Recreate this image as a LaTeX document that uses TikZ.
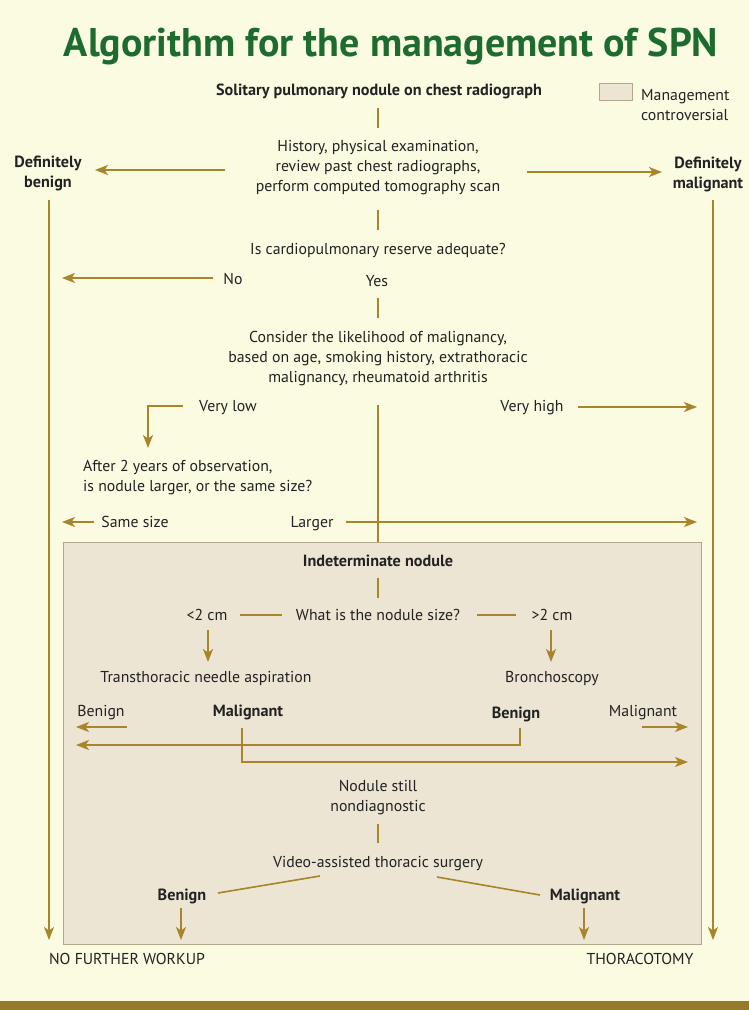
\documentclass[tikz,border=0pt]{standalone}
\usepackage{fontspec}
\setmainfont{PT Sans}
\usetikzlibrary{arrows.meta,calc}
\definecolor{bg}{HTML}{FBFBE2}
\definecolor{boxfill}{HTML}{ECE5D4}
\definecolor{boxline}{HTML}{B5A78A}
\definecolor{gold}{HTML}{A8842A}
\definecolor{band}{HTML}{957A2C}
\definecolor{ttl}{HTML}{1D6B2E}
\definecolor{ink}{HTML}{222222}
\begin{document}
\begin{tikzpicture}[x=1pt,y=-1pt,
  mtxt/.style={inner sep=0pt,align=center,text=ink,yshift=-2pt,font=\fontsize{15.8}{20}\selectfont},
  mbtxt/.style={mtxt,font=\fontsize{16.2}{20}\selectfont\bfseries},
  txt/.style={mtxt,text height=11pt,text depth=4pt},
  btxt/.style={mbtxt,text height=11pt,text depth=4pt},
  link/.style={draw=gold,line width=1.6pt},
  arr/.style={link,-{Stealth[length=13pt,width=10pt,inset=3.5pt]}}]
\useasboundingbox (0,0) rectangle (749,1010);
\fill[bg] (0,0) rectangle (749,1010);
\fill[band] (0,1001) rectangle (749,1010);
\draw[boxline,fill=boxfill,line width=0.6pt] (63,542) rectangle (701,944);

\node[inner sep=0pt,text=ttl,font=\fontsize{40}{44}\selectfont\bfseries] (title) at (391,46) {Algorithm for the management of SPN};

\node[btxt] (start) at (379,90) {Solitary pulmonary nodule on chest radiograph};
\node[draw=boxline,fill=boxfill,line width=0.6pt,minimum width=33pt,minimum height=17pt,inner sep=0pt] (legbox) at (616,92) {};
\node[mtxt,align=left,anchor=west] (legtxt) at (641,103) {Management\\controversial};

\node[mtxt] (hist) at (378,166) {History, physical examination,\\review past chest radiographs,\\perform computed tomography scan};
\node[mbtxt] (benign) at (48,171) {Definitely\\benign};
\node[mbtxt] (malig) at (708,172) {Definitely\\malignant};
\node[txt] (cardio) at (378,249) {Is cardiopulmonary reserve adequate?};
\node[txt] (no) at (233,279) {No};
\node[txt] (yes) at (377,281) {Yes};
\node[mtxt] (consider) at (378,357) {Consider the likelihood of malignancy,\\based on age, smoking history, extrathoracic\\malignancy, rheumatoid arthritis};
\node[txt] (vlow) at (228,406) {Very low};
\node[txt] (vhigh) at (532,406) {Very high};
\node[mtxt,align=left,anchor=west] (after) at (83,476) {After 2 years of observation,\\is nodule larger, or the same size?};
\node[txt] (same) at (135,522) {Same size};
\node[txt] (larger) at (312,522) {Larger};

\node[btxt] (indet) at (378,561) {Indeterminate nodule};
\node[txt] (lt2) at (207,615) {<2 cm};
\node[txt] (size) at (378,615) {What is the nodule size?};
\node[txt] (gt2) at (552,615) {>2 cm};
\node[txt] (tna) at (206,677) {Transthoracic needle aspiration};
\node[txt] (bronch) at (552,677) {Bronchoscopy};
\node[txt] (ben1) at (101,711) {Benign};
\node[btxt] (mal1) at (248,711) {Malignant};
\node[btxt] (ben2) at (516,713) {Benign};
\node[txt] (mal2) at (643,711) {Malignant};
\node[mtxt] (still) at (378,796) {Nodule still\\nondiagnostic};
\node[txt] (vats) at (378,862) {Video-assisted thoracic surgery};
\node[btxt] (ben3) at (182,895) {Benign};
\node[btxt] (mal3) at (585,895) {Malignant};
\node[txt] (nfw) at (127,959) {NO FURTHER WORKUP};
\node[txt] (thor) at (640,959) {THORACOTOMY};

% free ends
\coordinate (hL) at (225,170);
\coordinate (bL) at (95,170);
\coordinate (hR) at (527,172);
\coordinate (mR) at (662,172);
\coordinate (bTop) at (49,200);
\coordinate (bBot) at (49,940);
\coordinate (mTop) at (713,200);
\coordinate (mBot) at (713,940);
\coordinate (noS) at (213,278);
\coordinate (noL) at (62,278);
\coordinate (vlS) at (183,406);
\coordinate (bendL) at (148,406);
\coordinate (vlE) at (148,448);
\coordinate (vhS) at (578,407);
\coordinate (vhR) at (697,407);
\coordinate (spineT) at (378,405);
\coordinate (spine) at (378,542);
\coordinate (sameS) at (94,522);
\coordinate (sameL) at (62,522);
\coordinate (largS) at (346,522);
\coordinate (largR) at (697,522);
\coordinate (sz1) at (282,615);
\coordinate (sz1e) at (240,615);
\coordinate (sz2) at (477,615);
\coordinate (sz2e) at (516,615);
\coordinate (b1S) at (127,727);
\coordinate (b1L) at (76,727);
\coordinate (m2S) at (642,727);
\coordinate (m2R) at (688,727);
\coordinate (b2t) at (520,728);
\coordinate (b2c) at (520,745);
\coordinate (b2L) at (76,745);
\coordinate (m1t) at (242,728);
\coordinate (m1c) at (242,762);
\coordinate (m1R) at (688,762);
\coordinate (v1) at (320,876);
\coordinate (v1e) at (218,893);
\coordinate (v2) at (437,877);
\coordinate (v2e) at (540,895);
\coordinate (hT) at (378,108);
\coordinate (hB) at (378,128);
\coordinate (cT) at (378,210);
\coordinate (cB) at (378,230);
\coordinate (yT) at (378,298);
\coordinate (yB) at (378,318);
\coordinate (sT) at (378,824);
\coordinate (sB) at (378,843);
\coordinate (iT) at (378,578);
\coordinate (iB) at (378,598);
\coordinate (lT) at (208,630);
\coordinate (lB) at (208,662);
\coordinate (gT) at (551,630);
\coordinate (gB) at (551,662);
\coordinate (b3T) at (181,908);
\coordinate (b3B) at (181,940);
\coordinate (m3T) at (584,908);
\coordinate (m3B) at (584,940);

% connectors
\draw[link] (hT) -- (hB);
\draw[arr] (hL) -- (bL);
\draw[arr] (hR) -- (mR);
\draw[arr] (bTop) -- (bBot);
\draw[arr] (mTop) -- (mBot);
\draw[link] (cT) -- (cB);
\draw[arr] (noS) -- (noL);
\draw[link] (yT) -- (yB);
\draw[arr] (vlS) -- (bendL) -- (vlE);
\draw[arr] (vhS) -- (vhR);
\draw[link] (spineT) -- (spine);
\draw[arr] (sameS) -- (sameL);
\draw[arr] (largS) -- (largR);

\draw[link] (iT) -- (iB);
\draw[link] (sz1) -- (sz1e);
\draw[link] (sz2) -- (sz2e);
\draw[arr] (lT) -- (lB);
\draw[arr] (gT) -- (gB);
\draw[arr] (b1S) -- (b1L);
\draw[arr] (m2S) -- (m2R);
\draw[arr] (b2t) -- (b2c) -- (b2L);
\draw[arr] (m1t) -- (m1c) -- (m1R);
\draw[link] (sT) -- (sB);
\draw[link] (v1) -- (v1e);
\draw[link] (v2) -- (v2e);
\draw[arr] (b3T) -- (b3B);
\draw[arr] (m3T) -- (m3B);
\end{tikzpicture}
\end{document}
